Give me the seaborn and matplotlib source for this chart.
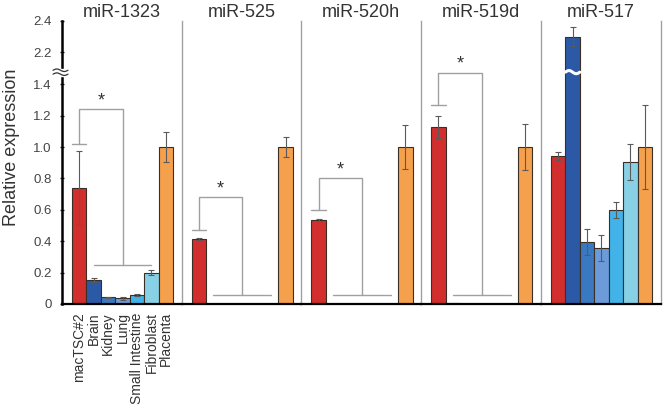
import numpy as np
import pandas as pd
import matplotlib
matplotlib.use("Agg")
import matplotlib.pyplot as plt
import matplotlib.transforms as mtrans
import seaborn as sns

sns.set_style("white")
plt.rcParams['font.family'] = ['Liberation Sans', 'DejaVu Sans']

tissues = ['macTSC#2', 'Brain', 'Kidney', 'Lung', 'Small Intestine', 'Fibroblast', 'Placenta']
colors = ['#d22e2e', '#2c59a5', '#3a79c1', '#6b9bd9', '#41b3e8', '#88d0e6', '#f5a04c']

titles = ['miR-1323', 'miR-525', 'miR-520h', 'miR-519d', 'miR-517']
mir1323 = [0.74, 0.152, 0.043, 0.035, 0.059, 0.20, 1.0]
mir1323_err = [0.235, 0.015, 0.004, 0.008, 0.006, 0.018, 0.095]
mir525 = [0.415, 0.0, 0.0, 0.0, 0.0, 0.0, 1.0]
mir525_err = [0.005, 0, 0, 0, 0, 0, 0.065]
mir520h = [0.533, 0.0, 0.0, 0.0, 0.0, 0.0, 1.0]
mir520h_err = [0.006, 0, 0, 0, 0, 0, 0.14]
mir519d = [1.13, 0.004, 0.0, 0.0, 0.0, 0.0, 1.0]
mir519d_err = [0.07, 0, 0, 0, 0, 0, 0.145]
mir517 = [0.944, 2.30, 0.394, 0.357, 0.60, 0.906, 1.0]
mir517_err = [0.025, 0.06, 0.085, 0.085, 0.05, 0.115, 0.27]

values = [mir1323, mir525, mir520h, mir519d, mir517]
errors = [mir1323_err, mir525_err, mir520h_err, mir519d_err, mir517_err]

# significance brackets: (cap level, bracket top, lower line level) or None
brackets = [(1.02, 1.24, 0.25), (0.47, 0.68, 0.057), (0.60, 0.80, 0.057), (1.27, 1.475, 0.057), None]

yticks = [0, 0.2, 0.4, 0.6, 0.8, 1.0, 1.2, 1.4, 2.2, 2.4]
yticklabels = ['0', '0.2', '0.4', '0.6', '0.8', '1.0', '1.2', '1.4', '2.2', '2.4']

# broken axis scale: 1.5..2.1 compressed
def fwd(y):
    y = np.asarray(y, dtype=float)
    return np.where(y <= 1.5, y, np.where(y < 2.1, 1.5 + (y - 1.5) * (0.005 / 0.6), y - 0.595))

def inv(z):
    z = np.asarray(z, dtype=float)
    return np.where(z <= 1.5, z, np.where(z < 1.505, 1.5 + (z - 1.5) * (0.6 / 0.005), z + 0.595))

fig, axes = plt.subplots(1, 5, figsize=(6.64, 4.09), dpi=100, sharey=True)
fig.subplots_adjust(left=0.0934, right=0.995, bottom=0.257, top=0.949, wspace=0)
axes[0].set_yscale('function', functions=(fwd, inv))

gray = '#a0a0a0'
for i, ax in enumerate(axes):
    df = pd.DataFrame({'tissue': tissues, 'value': values[i]})
    sns.barplot(data=df, x='tissue', y='value', hue='tissue', order=tissues,
                hue_order=tissues, palette=colors, saturation=1, width=1.0,
                edgecolor='#3b2e25', linewidth=0.8, legend=False, ax=ax)
    ax.set_xlim(-1.19, 7.1)
    err = np.array(errors[i])
    vals = np.array(values[i])
    idx = np.where(err > 0)[0]
    ax.errorbar(idx, vals[idx], yerr=err[idx], fmt='none', ecolor='#5a5a5a',
                elinewidth=0.8, capsize=2, capthick=0.8, zorder=5)
    br = brackets[i]
    if br is not None:
        cap, top, low = br
        ax.plot([-0.5, 0.5], [cap, cap], color=gray, lw=1)
        ax.plot([0, 0, 3, 3], [cap, top, top, low], color=gray, lw=1)
        ax.plot([1, 5], [low, low], color=gray, lw=1)
        ax.text(1.5, top + 0.0, '*', ha='center', va='bottom', fontsize=13, color='#333333')
    ax.set_title(titles[i], fontsize=13, color='#333333', pad=3)
    ax.set_xlabel('')
    ax.set_ylabel('')
    for s in ['top', 'right']:
        ax.spines[s].set_visible(False)
    ax.spines['bottom'].set_color('black')
    ax.spines['bottom'].set_linewidth(1.6)
    if i == 0:
        ax.spines['left'].set_color('black')
        ax.spines['left'].set_linewidth(1.8)
        ax.set_xticks(range(len(tissues)))
        ax.set_xticklabels(tissues, rotation=90, fontsize=10, color='#333333')
        ax.tick_params(axis='x', length=0, pad=6)
        ax.set_ylabel('Relative expression', fontsize=13, color='#333333')
        ax.yaxis.set_label_coords(-0.35, 0.553)
    else:
        ax.spines['left'].set_color(gray)
        ax.spines['left'].set_linewidth(1.0)
        ax.set_xticks([])
    if i == 4:
        ax.spines['right'].set_visible(True)
        ax.spines['right'].set_color(gray)
        ax.spines['right'].set_linewidth(1.0)
        # wavy break on tall bar
        xs = np.linspace(0.5, 1.5, 40)
        ax.plot(xs, 1.478 + 0.01 * np.sin((xs - 0.5) * 2 * np.pi), color='white', lw=2.2, zorder=4)

ax0 = axes[0]
ax0.set_ylim(0, 2.4)
ax0.set_yticks(yticks)
ax0.set_yticklabels(yticklabels)
ax0.yaxis.set_minor_locator(matplotlib.ticker.NullLocator())
ax0.tick_params(axis='y', direction='inout', length=3, width=1, labelsize=9.5,
                labelcolor='#444444', pad=6, left=True)
for ax in axes[1:]:
    ax.tick_params(axis='y', left=False, labelleft=False, which='both')

# axis break marks
trans = mtrans.blended_transform_factory(ax0.transAxes, ax0.transData)
xs = np.linspace(-0.075, 0.05, 40)
ax0.fill_between(xs, 1.455, 1.5, color='white', transform=trans, clip_on=False, zorder=6)
for yc in (1.465, 1.49):
    ax0.plot(xs, yc + 0.008 * np.sin((xs + 0.075) / 0.125 * 2 * np.pi),
             color='#333333', lw=0.9, transform=trans, clip_on=False, zorder=7)

fig.savefig('out.png', dpi=100)
